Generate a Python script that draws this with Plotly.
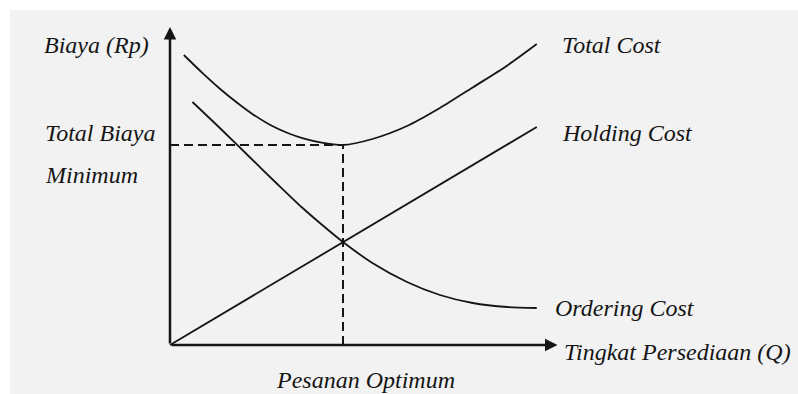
import plotly.graph_objects as go

# Tingkat persediaan (Q) dan biaya
q_total = [0.4, 0.95, 1.45, 1.95, 2.4, 2.9, 3.4, 3.85, 4.35, 5.0, 5.85, 6.85, 7.8, 8.75, 9.75, 10.6]
total_cost = [145, 135.8, 128, 121, 115.3, 110, 106, 103.3, 101.3, 100, 103, 109.5, 118.5, 128.8, 139.8, 150.5]

q_ordering = [0.65, 1.5, 2.3, 3.1, 3.8, 4.4, 5.0, 5.85, 6.85, 7.8, 8.75, 9.75, 10.6]
ordering_cost = [121.5, 107.5, 94, 80.5, 69, 60, 51.5, 41, 31.5, 25, 21, 19, 18.5]

q_holding = [0, 10.6]
holding_cost = [0, 109]

q_optimum = 5.0
biaya_minimum = 100

# panjang sumbu (ujung panah)
q_axis_end = 11.2
c_axis_end = 159

serif = "Times New Roman, Liberation Serif, DejaVu Serif, serif"
ink = "#151515"

fig = go.Figure()

line = dict(color=ink, width=1.8, shape="spline", smoothing=0.8)
fig.add_trace(go.Scatter(x=q_total, y=total_cost, mode="lines", line=line, name="Total Cost"))
fig.add_trace(go.Scatter(x=q_ordering, y=ordering_cost, mode="lines", line=line, name="Ordering Cost"))
fig.add_trace(go.Scatter(x=q_holding, y=holding_cost, mode="lines",
                         line=dict(color=ink, width=1.8), name="Holding Cost"))

# garis putus-putus ke titik optimum
fig.add_trace(go.Scatter(x=[0, q_optimum, q_optimum], y=[biaya_minimum, biaya_minimum, 0],
                         mode="lines", line=dict(color=ink, width=2, dash="9px,5px")))

# sumbu dengan panah
for tip, tail in [((q_axis_end, 0), (0, 0)), ((0, c_axis_end), (0, 0))]:
    fig.add_annotation(x=tip[0], y=tip[1], ax=tail[0], ay=tail[1], xref="x", yref="y",
                       axref="x", ayref="y", text="", showarrow=True, arrowhead=2,
                       arrowsize=1.0, arrowwidth=2.5, arrowcolor=ink, standoff=0)

labels = [
    ("Biaya (Rp)", -3.7, 150, "left"),
    ("Total Biaya", -3.67, 106, "left"),
    ("Minimum", -3.67, 85, "left"),
    ("Total Cost", 11.27, 150, "left"),
    ("Holding Cost", 11.27, 106, "left"),
    ("Ordering Cost", 11.07, 18.5, "left"),
    ("Tingkat Persediaan (Q)", 11.33, -3.5, "left"),
    ("Pesanan Optimum", 5.64, -17.5, "center"),
]
for text, x, y, anchor in labels:
    fig.add_annotation(x=x, y=y, xref="x", yref="y", text=text,
                       showarrow=False, xanchor=anchor, yanchor="middle",
                       font=dict(family=serif, size=24, color=ink, style="italic"))

fig.update_layout(
    width=798, height=394,
    margin=dict(l=10, r=0, t=10, b=0),
    paper_bgcolor="white",
    plot_bgcolor="#f2f2f2",
    showlegend=False,
    font=dict(family=serif),
    xaxis=dict(range=[-4.624, 18.15], visible=False, fixedrange=True),
    yaxis=dict(range=[-24.5, 167.5], visible=False, fixedrange=True),
)

# halaman tanpa margin bawaan browser
fig.write_html("out.html", config={"displayModeBar": False},
               post_script="document.body.style.margin='0';document.body.style.overflow='hidden';")
